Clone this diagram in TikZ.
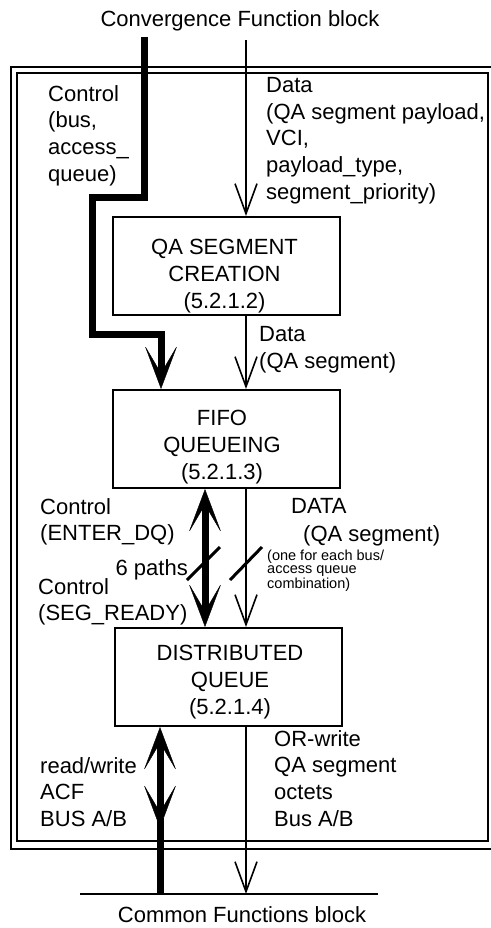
\documentclass[tikz,border=0pt]{standalone}
\usepackage{fontspec}
\setmainfont{Liberation Sans}
\usetikzlibrary{arrows.meta}
\tikzset{
  lbl/.style={font=\fontsize{22}{26.8}\selectfont, align=left, inner sep=0pt, anchor=north west},
  note/.style={font=\fontsize{14.5}{13.5}\selectfont, align=left, inner sep=0pt, anchor=north west},
  boxtxt/.style={font=\fontsize{22}{26.8}\selectfont, align=center, inner sep=0pt, anchor=north},
  unit/.style={draw, line width=2pt, inner sep=0pt, minimum width=227pt, minimum height=98pt},
  datahead/.tip={Straight Barb[length=30pt, width=22pt, line width=1.6pt]},
  ctlhead/.tip={Stealth[length=44pt, width=33pt, inset=28pt, line width=0.4pt]},
  datawire/.style={line width=1.6pt, -{datahead}},
  ctlwire/.style={line width=7pt},
  slash/.style={line width=3pt},
  frame/.style={line width=2pt},
}
\begin{document}
\begin{tikzpicture}[x=1pt, y=-1pt]
\useasboundingbox (0,0) rectangle (490,928);

% outer double frame (its right side runs off the edge of the sheet)
\draw[frame] (491,67) -- (11,67) -- (11,849) -- (491,849);
\draw[frame, line width=2.2pt] (17,73) rectangle (488,841);

% titles
\node[lbl, anchor=base, align=center] (cfb) at (240,27) {Convergence Function block};
\node[lbl, anchor=base, align=center] (cmb) at (242,922) {Common Functions block};

% function units
\node[unit] (qa)   at (226.5,266) {};
\node[unit] (fifo) at (226.5,439) {};
\node[unit] (dq)   at (228.5,677) {};
\node[boxtxt] (qat)   at (224.5,239) {QA SEGMENT\\CREATION\\(5.2.1.2)};
\node[boxtxt] (fifot) at (222,410)   {FIFO\\QUEUEING\\(5.2.1.3)};
\node[boxtxt] (dqt)   at (230,645)   {DISTRIBUTED\\QUEUE\\(5.2.1.4)};

% reference points
\coordinate (ctop) at (144,37);
\coordinate (c1) at (92,197);
\coordinate (c2) at (161,334);
\coordinate (dtop) at (246,40);
\coordinate (dx) at (246,0);
\coordinate (tx) at (205,0);
\coordinate (bx) at (160,0);
\coordinate (bmid) at (160,828);
\coordinate (busL) at (80,894);
\coordinate (busR) at (378,894);

% bus of the common functions block
\draw[line width=2pt] (busL) -- (busR);

% control path into the FIFO
\draw[ctlwire, -{ctlhead}] (ctop) |- (c1) |- (c2) -- (c2 |- fifo.north);

% data paths
\draw[datawire] (dtop) -- (qa.north -| dtop);
\draw[datawire] (qa.south -| dx) -- (fifo.north -| dx);
\draw[datawire] (fifo.south -| dx) -- (dq.north -| dx);
\draw[datawire] (dq.south -| dx) -- (dx |- busL);

% control between FIFO and distributed queue
\draw[ctlwire, {ctlhead}-{ctlhead}] (fifo.south -| tx) -- (dq.north -| tx);

% access to the bus
\draw[ctlwire, {ctlhead}-{ctlhead}] (dq.south -| bx) -- (bmid);
\draw[ctlwire] ([yshift=10pt]bmid) -- (bx |- busL);

% multiplicity marks
\coordinate (s1) at (204,563);
\coordinate (s2) at (246,563);
\draw[slash] ([shift={(-17,17)}]s1) -- ([shift={(16,-16)}]s1);
\draw[slash] ([shift={(-16,17)}]s2) -- ([shift={(16,-16)}]s2);

% labels
\node[lbl] (lctl) at (48,85) {Control\\(bus,\\access\_\\queue)};
\node[lbl] (ldata) at (266,77) {Data\\(QA segment payload,\\VCI,\\payload\_type,\\segment\_priority)};
\node[lbl] (ldata2) at (259,326) {Data\\(QA segment)};
\node[lbl] (lenter) at (40,498) {Control\\(ENTER\_DQ)};
\node[lbl, anchor=base east] (lpaths) at (188,575) {6 paths};
\node[lbl] (lseg) at (38,578) {Control\\(SEG\_READY)};
\node[lbl] (lDATA) at (291,498) {DATA};
\node[lbl] (lqas) at (303,525) {(QA segment)};
\node[note] (lnote) at (267,549.5) {(one for each bus/\\access queue\\combination)};
\node[lbl] (lrw) at (40,757) {read/write\\ACF\\BUS A/B};
\node[lbl] (lor) at (274,730) {OR-write\\QA segment\\octets\\Bus A/B};
\end{tikzpicture}
\end{document}
